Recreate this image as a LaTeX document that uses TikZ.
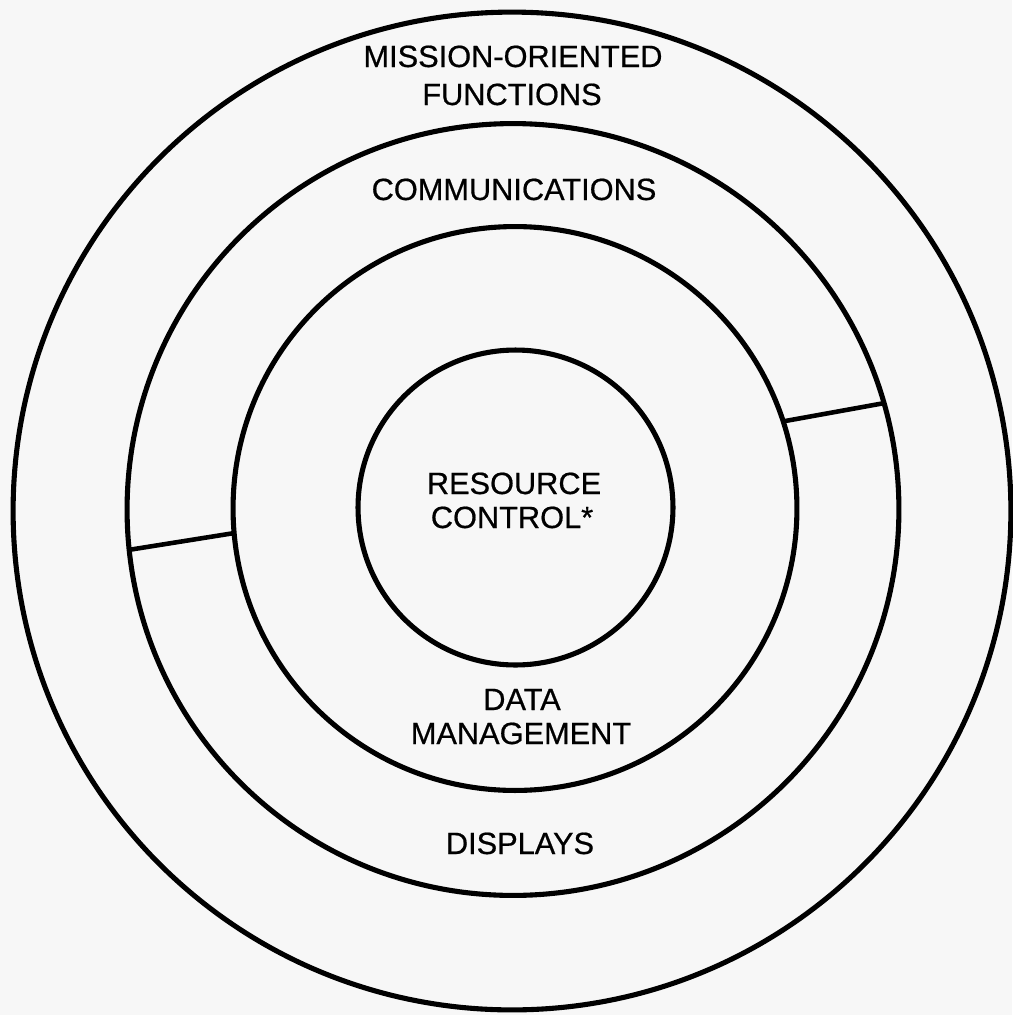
\documentclass[tikz,border=0pt]{standalone}
\usepackage{fontspec}
\setmainfont{Liberation Sans}
\newfontfamily\lblfont[FakeBold=0.6]{Liberation Sans}
\begin{document}
\begin{tikzpicture}[x=0.02cm,y=-0.02cm,
  ring/.style={draw,circle,line width=2.9pt,inner sep=0pt,outer sep=0pt},
  lbl/.style={anchor=base,inner sep=0pt,font=\lblfont\fontsize{17.5}{21}\selectfont},
  divider/.style={line width=2.6pt}]
\fill[black!3] (0,0) rectangle (1012,1015);
\useasboundingbox (0,0) rectangle (1012,1015);
\node[ring,minimum size=19.96cm] (c1) at (512,511) {};
\node[ring,minimum size=15.44cm] (c2) at (513,509.5) {};
\node[ring,minimum size=11.28cm] (c3) at (515,508.5) {};
\node[ring,minimum size=6.3cm] (c4) at (515.5,507.5) {};
\draw[divider] (c2.186.8) -- (c3.185);
\draw[divider] (c3.18) -- (c2.16.2);
\node[lbl] (mo1) at (513,67) {MISSION-ORIENTED};
\node[lbl] (mo2) at (512,105) {FUNCTIONS};
\node[lbl] (com) at (514,200) {COMMUNICATIONS};
\node[lbl] (rc1) at (514,494) {RESOURCE};
\node[lbl] (rc2) at (512,528) {CONTROL*};
\node[lbl] (dm1) at (522,710) {DATA};
\node[lbl] (dm2) at (521,744) {MANAGEMENT};
\node[lbl] (dis) at (520,854) {DISPLAYS};
\end{tikzpicture}
\end{document}
